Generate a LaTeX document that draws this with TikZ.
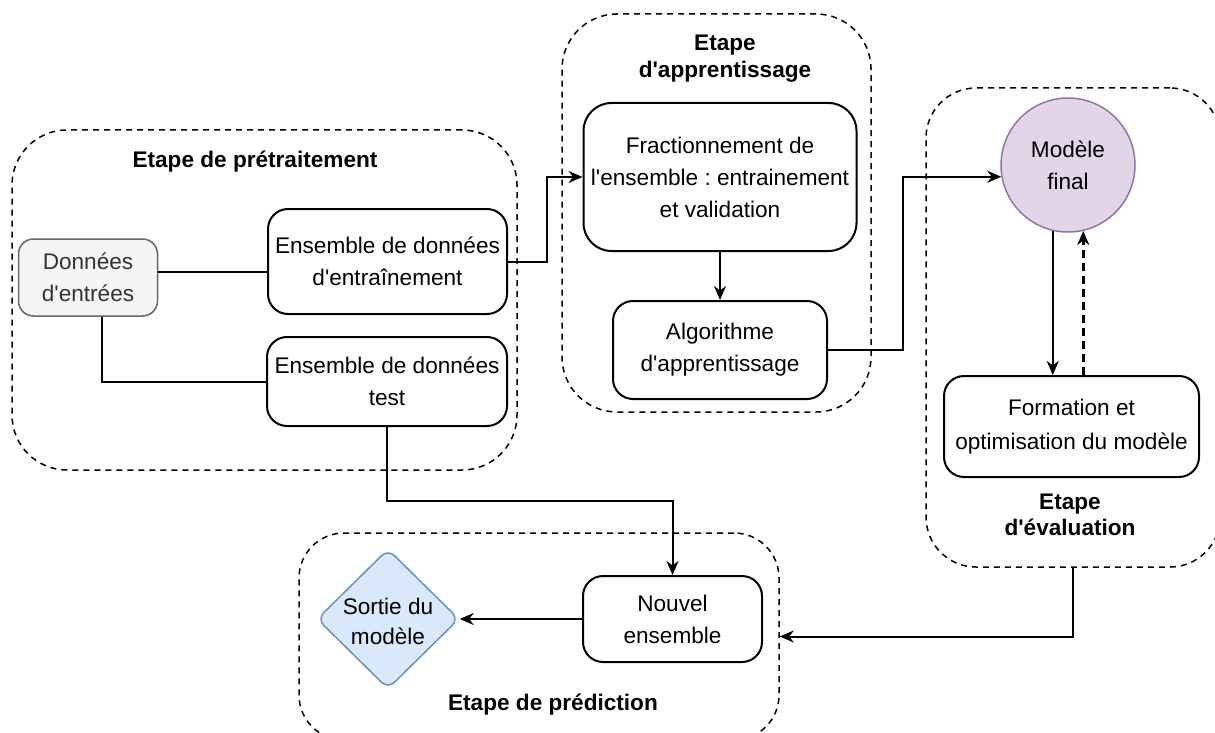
\documentclass[tikz,border=0pt]{standalone}
\usepackage{fontspec}
\setmainfont{Liberation Sans}[Ligatures=TeXOff]
\usetikzlibrary{arrows.meta,shapes.geometric}
\definecolor{grayfill}{HTML}{F5F5F5}
\definecolor{graydraw}{HTML}{666666}
\definecolor{graytext}{HTML}{333333}
\definecolor{purfill}{HTML}{E1D5E7}
\definecolor{purdraw}{HTML}{9673A6}
\definecolor{bluefill}{HTML}{DAE8FC}
\definecolor{bluedraw}{HTML}{6C8EBF}
\frenchspacing
\begin{document}
\begin{tikzpicture}[x=1pt,y=-1pt,
  every node/.style={font=\fontsize{22.6}{32}\selectfont, inner sep=0pt, align=center},
  group/.style={rectangle, draw, dash pattern=on 6pt off 5pt, line width=1.5pt, rounded corners=55pt},
  box/.style={rectangle, draw, line width=2pt, rounded corners=20pt},
  title/.style={font=\fontsize{22.6}{26.5}\selectfont\bfseries},
  conn/.style={line width=2pt},
  arr/.style={conn, -{Stealth[length=14pt,width=12pt,inset=4.5pt]}},
]
\useasboundingbox (0,0) rectangle (1215,733);

% groups
\node[group, minimum width=505, minimum height=340] (gpre) at (264.5,300) {};
\node[title] (tpre) at (255,162) {Etape de prétraitement};
\node[group, minimum width=309, minimum height=398] (gapp) at (716.5,213) {};
\node[title] (tapp) at (725,58.5) {Etape\\d'apprentissage};
\node[group, minimum width=294, minimum height=479, rounded corners=50pt] (geva) at (1073,327.5) {};
\node[title] (teva) at (1070,515) {Etape\\d'évaluation};
\node[group, minimum width=480, minimum height=207, rounded corners=45pt] (gpred) at (539,636.5) {};
\node[title] (tpred) at (553,705) {Etape de prédiction};

% nodes
\node[box, fill=grayfill, draw=graydraw, text=graytext, rounded corners=15pt, line width=1.5pt, minimum width=139, minimum height=77] (don) at (88,277.5) {Données\\d'entrées};
\node[box, minimum width=239, minimum height=105] (ent) at (387.5,261.5) {Ensemble de données\\d'entraînement};
\node[box, minimum width=240, minimum height=89] (test) at (387,381.5) {Ensemble de données\\test};
\node[box, minimum width=273, minimum height=148, rounded corners=28pt] (frac) at (720,177) {Fractionnement de\\l'ensemble : entrainement\\et validation};
\node[box, minimum width=214, minimum height=98] (alg) at (720,350) {Algorithme\\d'apprentissage};
\node[circle, draw=purdraw, fill=purfill, line width=1.5pt, minimum size=134] (mod) at (1068,165) {Modèle\\final};
\node[box, minimum width=255, minimum height=101, font=\fontsize{22.6}{34}\selectfont] (form) at (1071.5,426.5) {Formation et\\optimisation du modèle};
\node[diamond, draw=bluedraw, fill=bluefill, line width=1.5pt, rounded corners=9pt, minimum width=142, minimum height=140] (sortie) at (388,619) {};
\node[font=\fontsize{22.6}{30}\selectfont] (tsortie) at (388,621) {Sortie du\\modèle};
\node[box, minimum width=179, minimum height=86] (nouv) at (672.5,619) {Nouvel\\ensemble};

% connectors
\draw[conn] (don.east |- 0,272) -- (ent.west |- 0,272);
\draw[conn] (don.south -| 102,0) |- (test.west);
\draw[arr] (ent.east) -- ++(39,0) |- (frac.west);
\draw[arr] (frac.south) -- (frac.south |- alg.north);
\draw[arr] (alg.east) -- ++(75,0) |- (mod.190);
\draw[arr] (mod.257) -- (mod.257 |- form.north);
\draw[arr, line width=3pt, dash pattern=on 8pt off 5pt] (mod.283 |- form.north) -- (mod.283);
\draw[arr] (test.south) -- (test.south |- 0,501) -| (nouv.north);
\draw[arr] (nouv.west) -- (sortie.east);
\draw[arr] (geva.south) |- (gpred.east);
\end{tikzpicture}
\end{document}
